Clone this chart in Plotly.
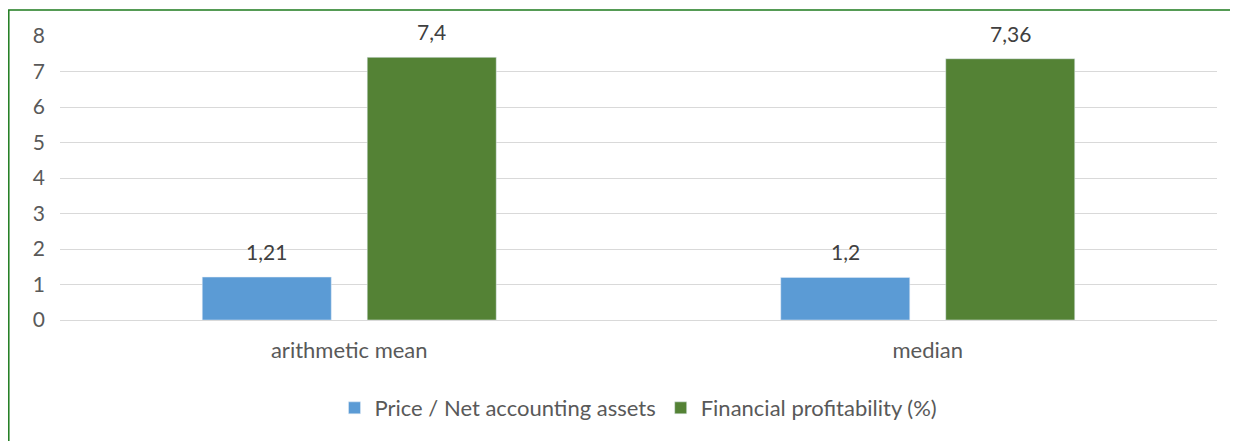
import plotly.graph_objects as go

categories = ["arithmetic mean", "median"]
series_names = ["Price / Net accounting assets", "Financial profitability (%)"]
price_nav = [1.21, 1.2]
fin_prof = [7.4, 7.36]
label_price = ["1,21", "1,2"]
label_fin = ["7,4", "7,36"]
y_ticks = [0, 1, 2, 3, 4, 5, 6, 7, 8]

FONT = "Lato"
TXT = "#595959"
FS = 22
COLORS = ["#5B9BD5", "#548235"]

fig = go.Figure()
fig.add_trace(go.Bar(x=categories, y=price_nav, name=series_names[0], marker_color=COLORS[0]))
fig.add_trace(go.Bar(x=categories, y=fin_prof, name=series_names[1], marker_color=COLORS[1]))

# data labels (offset to each bar's slot within the group)
slot_px = 82.5
for vals, labels, shift in [(price_nav, label_price, -slot_px), (fin_prof, label_fin, slot_px)]:
    for c, v, t in zip(categories, vals, labels):
        fig.add_annotation(x=c, y=v, text=t, showarrow=False, xref="x", yref="y",
                           xshift=shift, yshift=11, yanchor="bottom",
                           font=dict(size=FS - 1, color="#404040", family=FONT))

fig.update_layout(
    width=1230, height=433,
    margin=dict(l=52, r=21, t=28, b=121),
    paper_bgcolor="white", plot_bgcolor="white",
    barmode="group", bargap=0.4296, bargroupgap=0.218,
    font=dict(family=FONT, size=FS, color=TXT),
    showlegend=True,
    legend=dict(orientation="h", x=0.5, xanchor="center", y=-0.31, yanchor="middle",
                font=dict(size=FS, color=TXT, family=FONT), traceorder="normal"),
    shapes=[dict(type="rect", xref="paper", yref="paper",
                 x0=-51.2 / 1157, x1=1.05, y0=-0.6, y1=1 + 26 / 284,
                 line=dict(color="#1E7B1E", width=1.5), fillcolor="rgba(0,0,0,0)", layer="below")],
)
fig.update_xaxes(showgrid=False, showline=False, ticks="", tickfont=dict(size=FS, color=TXT),
                 ticklabelstandoff=15)
fig.update_yaxes(range=[0, 8], tickvals=y_ticks, showgrid=True, gridcolor="#D9D9D9", gridwidth=1,
                 zeroline=True, zerolinecolor="#D9D9D9", zerolinewidth=1, showline=False,
                 tickfont=dict(size=FS - 1, color=TXT), ticklabelstandoff=14)

fig.write_html("out.html")
